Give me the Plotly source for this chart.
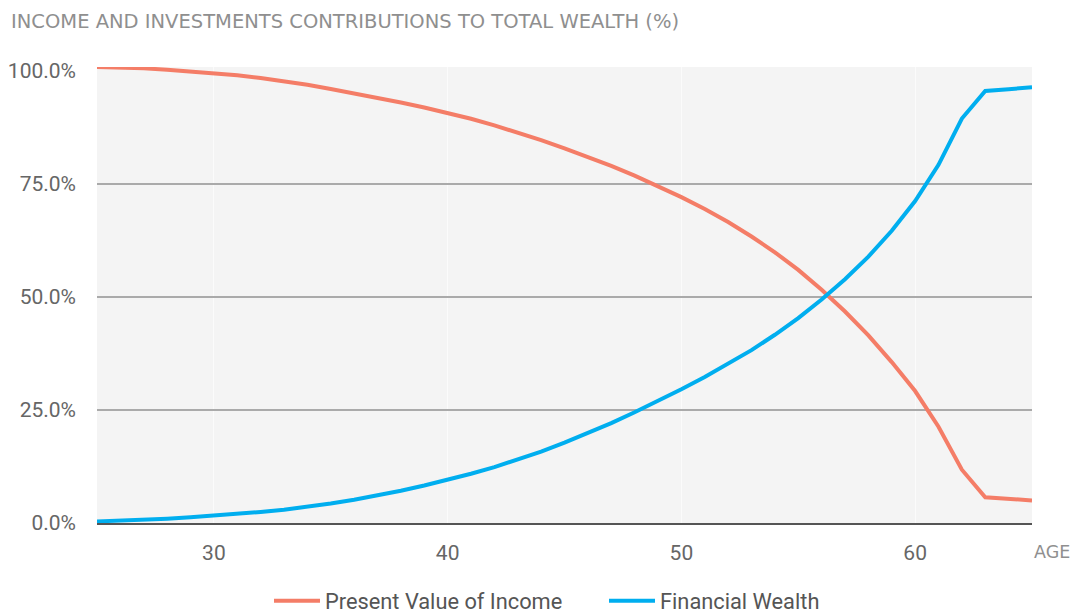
import plotly.graph_objects as go

ages = list(range(25, 66))

present_value_income = [
    100.9, 100.8, 100.6, 100.3, 99.95, 99.55, 99.05, 98.45, 97.75, 96.95,
    96.05, 95.1, 94.1, 93.05, 91.95, 90.75, 89.45, 88.0, 86.4, 84.7,
    82.9, 81.0, 79.0, 76.85, 74.55, 72.1, 69.5, 66.6, 63.4, 59.9,
    56.0, 51.6, 46.8, 41.5, 35.6, 29.2, 21.3, 11.8, 5.7, 5.35, 5.0,
]

financial_wealth = [
    0.35, 0.5, 0.7, 0.95, 1.25, 1.6, 2.0, 2.45, 2.95, 3.55,
    4.3, 5.15, 6.1, 7.15, 8.3, 9.55, 10.9, 12.35, 14.0, 15.8,
    17.8, 19.9, 22.1, 24.5, 27.0, 29.6, 32.3, 35.15, 38.25, 41.65,
    45.35, 49.45, 53.95, 58.95, 64.65, 71.25, 79.25, 89.5, 95.6, 96.0, 96.4,
]

x_ticks = [30, 40, 50, 60]
y_ticks = [0, 25, 50, 75, 100]
y_tick_text = ["0.0%", "25.0%", "50.0%", "75.0%", "100.0%"]
y_grid = [25, 50, 75]

title_text = "INCOME AND INVESTMENTS CONTRIBUTIONS TO TOTAL WEALTH (%)"
x_label = "AGE"

RED = "#F47D67"
BLUE = "#00AEEF"
Y_RANGE = [0, 100.9]

fig = go.Figure()
fig.add_trace(go.Scatter(
    x=ages, y=present_value_income, mode="lines", name="Present Value of Income",
    line=dict(color=RED, width=4), hoverinfo="skip",
))
fig.add_trace(go.Scatter(
    x=ages, y=financial_wealth, mode="lines", name="Financial Wealth",
    line=dict(color=BLUE, width=4), hoverinfo="skip",
))
# invisible helper trace to carry the gridline axis
fig.add_trace(go.Scatter(
    x=[ages[0]], y=[0], yaxis="y2", mode="lines", showlegend=False,
    line=dict(width=0), hoverinfo="skip",
))

fig.update_layout(
    width=1073, height=613,
    margin=dict(l=97, r=41, t=67, b=90),
    paper_bgcolor="white",
    plot_bgcolor="#f4f4f4",
    showlegend=True,
    legend=dict(
        orientation="h", xref="container", x=269 / 1073, xanchor="left",
        yref="container", y=(613 - 601) / 613, yanchor="middle",
        itemwidth=46, entrywidth=274, entrywidthmode="pixels",
        font=dict(family="Roboto", size=21.8, color="#555555"),
        bgcolor="rgba(0,0,0,0)",
    ),
    title=dict(
        text=title_text, xref="container", x=11 / 1073, xanchor="left",
        yref="container", y=1 - 21 / 613, yanchor="middle",
        font=dict(family="DejaVu Sans", size=19.5, color="#8f8f8f"),
    ),
    xaxis=dict(
        range=[25, 65], tickvals=x_ticks, showgrid=True, gridcolor="#fbfbfb",
        gridwidth=1, zeroline=False, showline=True, linecolor="#555555",
        linewidth=2, ticks="", ticklabelstandoff=10, automargin=False,
        tickfont=dict(family="Roboto", size=21, color="#666666"),
    ),
    yaxis=dict(
        range=Y_RANGE, tickvals=y_ticks, ticktext=y_tick_text, showgrid=False,
        zeroline=False, showline=False, ticks="", ticklabelstandoff=20,
        automargin=False,
        tickfont=dict(family="Roboto", size=21, color="#666666"),
    ),
    yaxis2=dict(
        range=Y_RANGE, overlaying="y", tickvals=y_grid, showgrid=True,
        gridcolor="#aaaaaa", gridwidth=1.5, showticklabels=False, zeroline=False,
        showline=False, ticks="", layer="below traces", automargin=False,
    ),
    annotations=[dict(
        text=x_label, xref="paper", x=1, xanchor="left", xshift=0,
        yref="paper", y=0, yanchor="middle", yshift=-29, showarrow=False,
        font=dict(family="DejaVu Sans", size=17.5, color="#8f8f8f"),
    )],
)

fig.write_html(
    "out.html",
    config={"displayModeBar": False},
    post_script="document.body.style.margin='0px';",
)
